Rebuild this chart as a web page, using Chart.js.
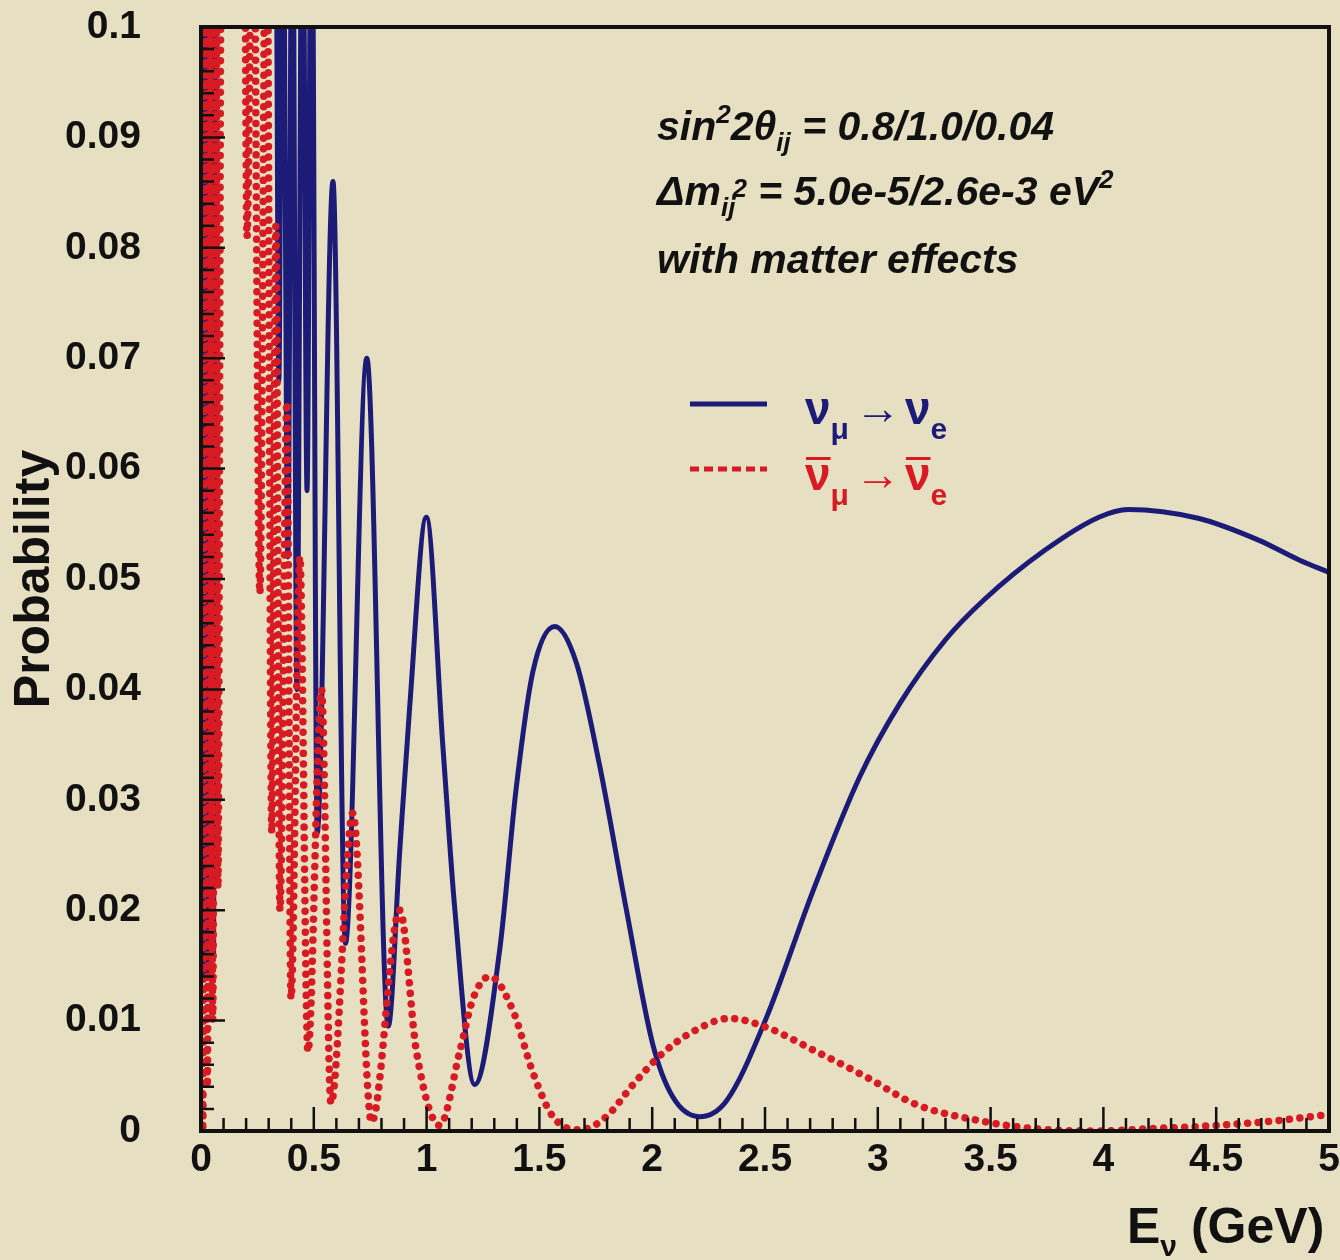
<!DOCTYPE html>
<html>
<head>
<meta charset="utf-8">
<script src="https://cdn.jsdelivr.net/npm/chart.js@4.4.1/dist/chart.umd.min.js"></script>
<style>
  html, body { margin: 0; padding: 0; background: #e6dfc1; }
  #wrap { width: 1340px; height: 1260px; position: relative; }
</style>
</head>
<body>
<div id="wrap"><canvas id="probChart"></canvas></div>
<script>
// nu_mu -> nu_e (solid blue), energies in GeV
const numuE = [0.000, 0.008, 0.016, 0.024, 0.032, 0.040, 0.048, 0.056, 0.064, 0.330,
  0.345, 0.362, 0.385, 0.405, 0.425, 0.450, 0.470, 0.490, 0.515, 0.585,
  0.640, 0.735, 0.830, 0.881, 0.925, 0.999, 1.072, 1.125, 1.213, 1.324,
  1.398, 1.471, 1.568, 1.664, 1.767, 1.885, 2.002, 2.091, 2.210, 2.328,
  2.505, 2.710, 2.918, 3.100, 3.300, 3.470, 3.740, 3.980, 4.110, 4.420,
  4.690, 4.870, 5.000];
const numuP = [0.110, 0.014, 0.110, 0.014, 0.110, 0.014, 0.110, 0.016, 0.110, 0.120,
  0.068, 0.120, 0.052, 0.120, 0.040, 0.120, 0.058, 0.120, 0.027, 0.086,
  0.017, 0.070, 0.0095, 0.0254, 0.0384, 0.0556, 0.0349, 0.0201, 0.0042, 0.0164,
  0.0312, 0.0416, 0.0457, 0.0424, 0.0331, 0.0201, 0.0079, 0.0031, 0.0013, 0.0027,
  0.0102, 0.0216, 0.0320, 0.0388, 0.0445, 0.0481, 0.0526, 0.0556, 0.0563, 0.0555,
  0.0535, 0.0517, 0.0506];

// anti-nu_mu -> anti-nu_e (dotted red)
const antiE = [0.000, 0.008, 0.018, 0.028, 0.040, 0.052, 0.066, 0.075, 0.090, 0.190,
  0.204, 0.230, 0.261, 0.290, 0.314, 0.332, 0.350, 0.381, 0.399, 0.438,
  0.474, 0.534, 0.576, 0.673, 0.756, 0.881, 0.955, 1.058, 1.147, 1.206,
  1.280, 1.383, 1.471, 1.560, 1.680, 1.797, 1.915, 2.033, 2.180, 2.343,
  2.505, 2.727, 2.948, 3.170, 3.460, 3.700, 3.980, 4.200, 4.500, 4.750,
  5.000];
const antiP = [0.110, 0.000, 0.110, 0.004, 0.110, 0.010, 0.110, 0.022, 0.110, 0.120,
  0.081, 0.120, 0.0487, 0.120, 0.027, 0.082, 0.020, 0.066, 0.012, 0.052,
  0.0072, 0.040, 0.0025, 0.0288, 0.0008, 0.020, 0.0072, 0.0005, 0.0072, 0.012,
  0.014, 0.0109, 0.0053, 0.0013, 0.0001, 0.0013, 0.0042, 0.0068, 0.0090, 0.0102,
  0.0094, 0.0072, 0.0049, 0.0024, 0.0009, 0.0002, 0.0000, 0.0002, 0.0005, 0.0009,
  0.0015];

const xMajor = 0.5;
const yMajor = 0.01;

const FONT = '"Liberation Sans", Arial, Helvetica, sans-serif';
const INK = '#111111';
const BLUE = '#1c1c78';
const RED = '#d81a22';

function isMajor(v, step) {
  return Math.abs(v / step - Math.round(v / step)) < 1e-6;
}
function fmt(v) {
  return String(Math.round(v * 1000) / 1000);
}
function toPoints(xs, ys) {
  return xs.map((x, i) => ({ x: x, y: ys[i] }));
}

// draws a run of text pieces (sub/superscripts, overbars)
function drawRuns(ctx, x, y, runs) {
  runs.forEach(r => {
    ctx.font = r.font;
    ctx.fillStyle = r.color || INK;
    ctx.fillText(r.t, x, y + (r.dy || 0));
    const w = ctx.measureText(r.t).width;
    if (r.bar) ctx.fillRect(x + 1, y + r.bar, w - 1, 3);
    x += w + (r.gap || 0);
  });
}

const frameAndTicks = {
  id: 'frameAndTicks',
  afterDatasetsDraw(chart) {
    const { ctx, chartArea: a, scales: { x, y } } = chart;
    ctx.save();
    ctx.strokeStyle = INK;
    ctx.lineWidth = 2.5;
    ctx.beginPath();
    x.ticks.forEach(t => {
      const px = x.getPixelForValue(t.value);
      const len = isMajor(t.value, xMajor) ? 24 : 13;
      ctx.moveTo(px, a.bottom);
      ctx.lineTo(px, a.bottom - len);
    });
    y.ticks.forEach(t => {
      const py = y.getPixelForValue(t.value);
      const len = isMajor(t.value, yMajor) ? 24 : 13;
      ctx.moveTo(a.left, py);
      ctx.lineTo(a.left + len, py);
    });
    ctx.stroke();
    ctx.lineWidth = 4;
    ctx.strokeRect(a.left, a.top, a.right - a.left, a.bottom - a.top);
    ctx.restore();
  },
  afterDraw(chart) {
    const ctx = chart.ctx;
    ctx.save();
    ctx.textBaseline = 'alphabetic';
    ctx.textAlign = 'left';
    const bi = s => 'italic bold ' + s + 'px ' + FONT;
    const b = s => 'bold ' + s + 'px ' + FONT;

    drawRuns(ctx, 657, 140, [
      { t: 'sin', font: bi(41) },
      { t: '2', font: bi(26), dy: -17 },
      { t: '2θ', font: bi(41) },
      { t: 'ij', font: bi(26), dy: 11 },
      { t: ' = 0.8/1.0/0.04', font: bi(41) }
    ]);
    drawRuns(ctx, 657, 205, [
      { t: 'Δm', font: bi(41) },
      { t: 'ij', font: bi(26), dy: 11, gap: -3 },
      { t: '2', font: bi(26), dy: -8 },
      { t: ' = 5.0e-5/2.6e-3 eV', font: bi(41) },
      { t: '2', font: bi(26), dy: -17 }
    ]);
    drawRuns(ctx, 657, 273, [
      { t: 'with matter effects', font: bi(41) }
    ]);

    // legend
    const blueDs = chart.data.datasets[1];
    const redDs = chart.data.datasets[0];
    ctx.lineCap = 'butt';
    ctx.lineWidth = 5;
    ctx.strokeStyle = blueDs.borderColor;
    ctx.beginPath();
    ctx.moveTo(690, 404);
    ctx.lineTo(767, 404);
    ctx.stroke();
    ctx.strokeStyle = redDs.borderColor;
    ctx.setLineDash([9, 5]);
    ctx.beginPath();
    ctx.moveTo(690, 469);
    ctx.lineTo(767, 469);
    ctx.stroke();
    ctx.setLineDash([]);

    drawRuns(ctx, 805, 424, [
      { t: 'ν', font: b(46), color: BLUE },
      { t: 'μ', font: b(30), dy: 15, color: BLUE, gap: 6 },
      { t: '→', font: b(46), color: BLUE, gap: 4 },
      { t: 'ν', font: b(46), color: BLUE },
      { t: 'e', font: b(30), dy: 15, color: BLUE }
    ]);
    drawRuns(ctx, 805, 490, [
      { t: 'ν', font: b(46), color: RED, bar: -33 },
      { t: 'μ', font: b(30), dy: 15, color: RED, gap: 6 },
      { t: '→', font: b(46), color: RED, gap: 4 },
      { t: 'ν', font: b(46), color: RED, bar: -33 },
      { t: 'e', font: b(30), dy: 15, color: RED }
    ]);

    // x axis title
    drawRuns(ctx, 1127, 1243, [
      { t: 'E', font: b(50) },
      { t: 'ν', font: b(30), dy: 13 },
      { t: ' (GeV)', font: b(50) }
    ]);
    ctx.restore();
  }
};

document.addEventListener('DOMContentLoaded', () => {
  const ctx = document.getElementById('probChart');
  new Chart(ctx, {
    type: 'line',
    data: {
      datasets: [
        {
          label: 'anti nu_mu -> anti nu_e',
          data: toPoints(antiE, antiP),
          borderColor: RED,
          borderWidth: 7.5,
          borderDash: [0.01, 10.5],
          borderCapStyle: 'round',
          pointRadius: 0,
          cubicInterpolationMode: 'monotone',
          fill: false,
          order: 0
        },
        {
          label: 'nu_mu -> nu_e',
          data: toPoints(numuE, numuP),
          borderColor: BLUE,
          borderWidth: 5,
          borderJoinStyle: 'miter',
          pointRadius: 0,
          cubicInterpolationMode: 'monotone',
          fill: false,
          order: 1
        }
      ]
    },
    options: {
      responsive: true,
      maintainAspectRatio: false,
      animation: false,
      layout: { padding: { top: 27, right: 11, left: 0, bottom: 0 } },
      plugins: {
        legend: { display: false },
        tooltip: { enabled: false }
      },
      scales: {
        x: {
          type: 'linear',
          min: 0,
          max: 5,
          // invisible tick marks only used to space the labels; real ticks are drawn inward
          grid: { display: true, drawOnChartArea: false, drawTicks: true, tickLength: 6, color: 'rgba(0,0,0,0)' },
          border: { display: false },
          ticks: {
            stepSize: 0.1,
            maxTicksLimit: 100,
            autoSkip: false,
            maxRotation: 0,
            padding: 0,
            color: INK,
            font: { family: FONT, size: 39, weight: 'bold' },
            callback: v => isMajor(v, xMajor) ? fmt(v) : ''
          },
          afterFit: s => { s.height = 129; }
        },
        y: {
          type: 'linear',
          min: 0,
          max: 0.1,
          grid: { display: true, drawOnChartArea: false, drawTicks: true, tickLength: 60, color: 'rgba(0,0,0,0)' },
          border: { display: false },
          ticks: {
            stepSize: 0.002,
            maxTicksLimit: 100,
            autoSkip: false,
            padding: 0,
            color: INK,
            font: { family: FONT, size: 39, weight: 'bold' },
            callback: v => isMajor(v, yMajor) ? fmt(v) : ''
          },
          title: {
            display: true,
            text: 'Probability',
            color: INK,
            font: { family: FONT, size: 50, weight: 'bold' },
            padding: { top: 5, bottom: 0 }
          },
          afterFit: s => { s.width = 201; }
        }
      }
    },
    plugins: [frameAndTicks]
  });
});
</script>
</body>
</html>
